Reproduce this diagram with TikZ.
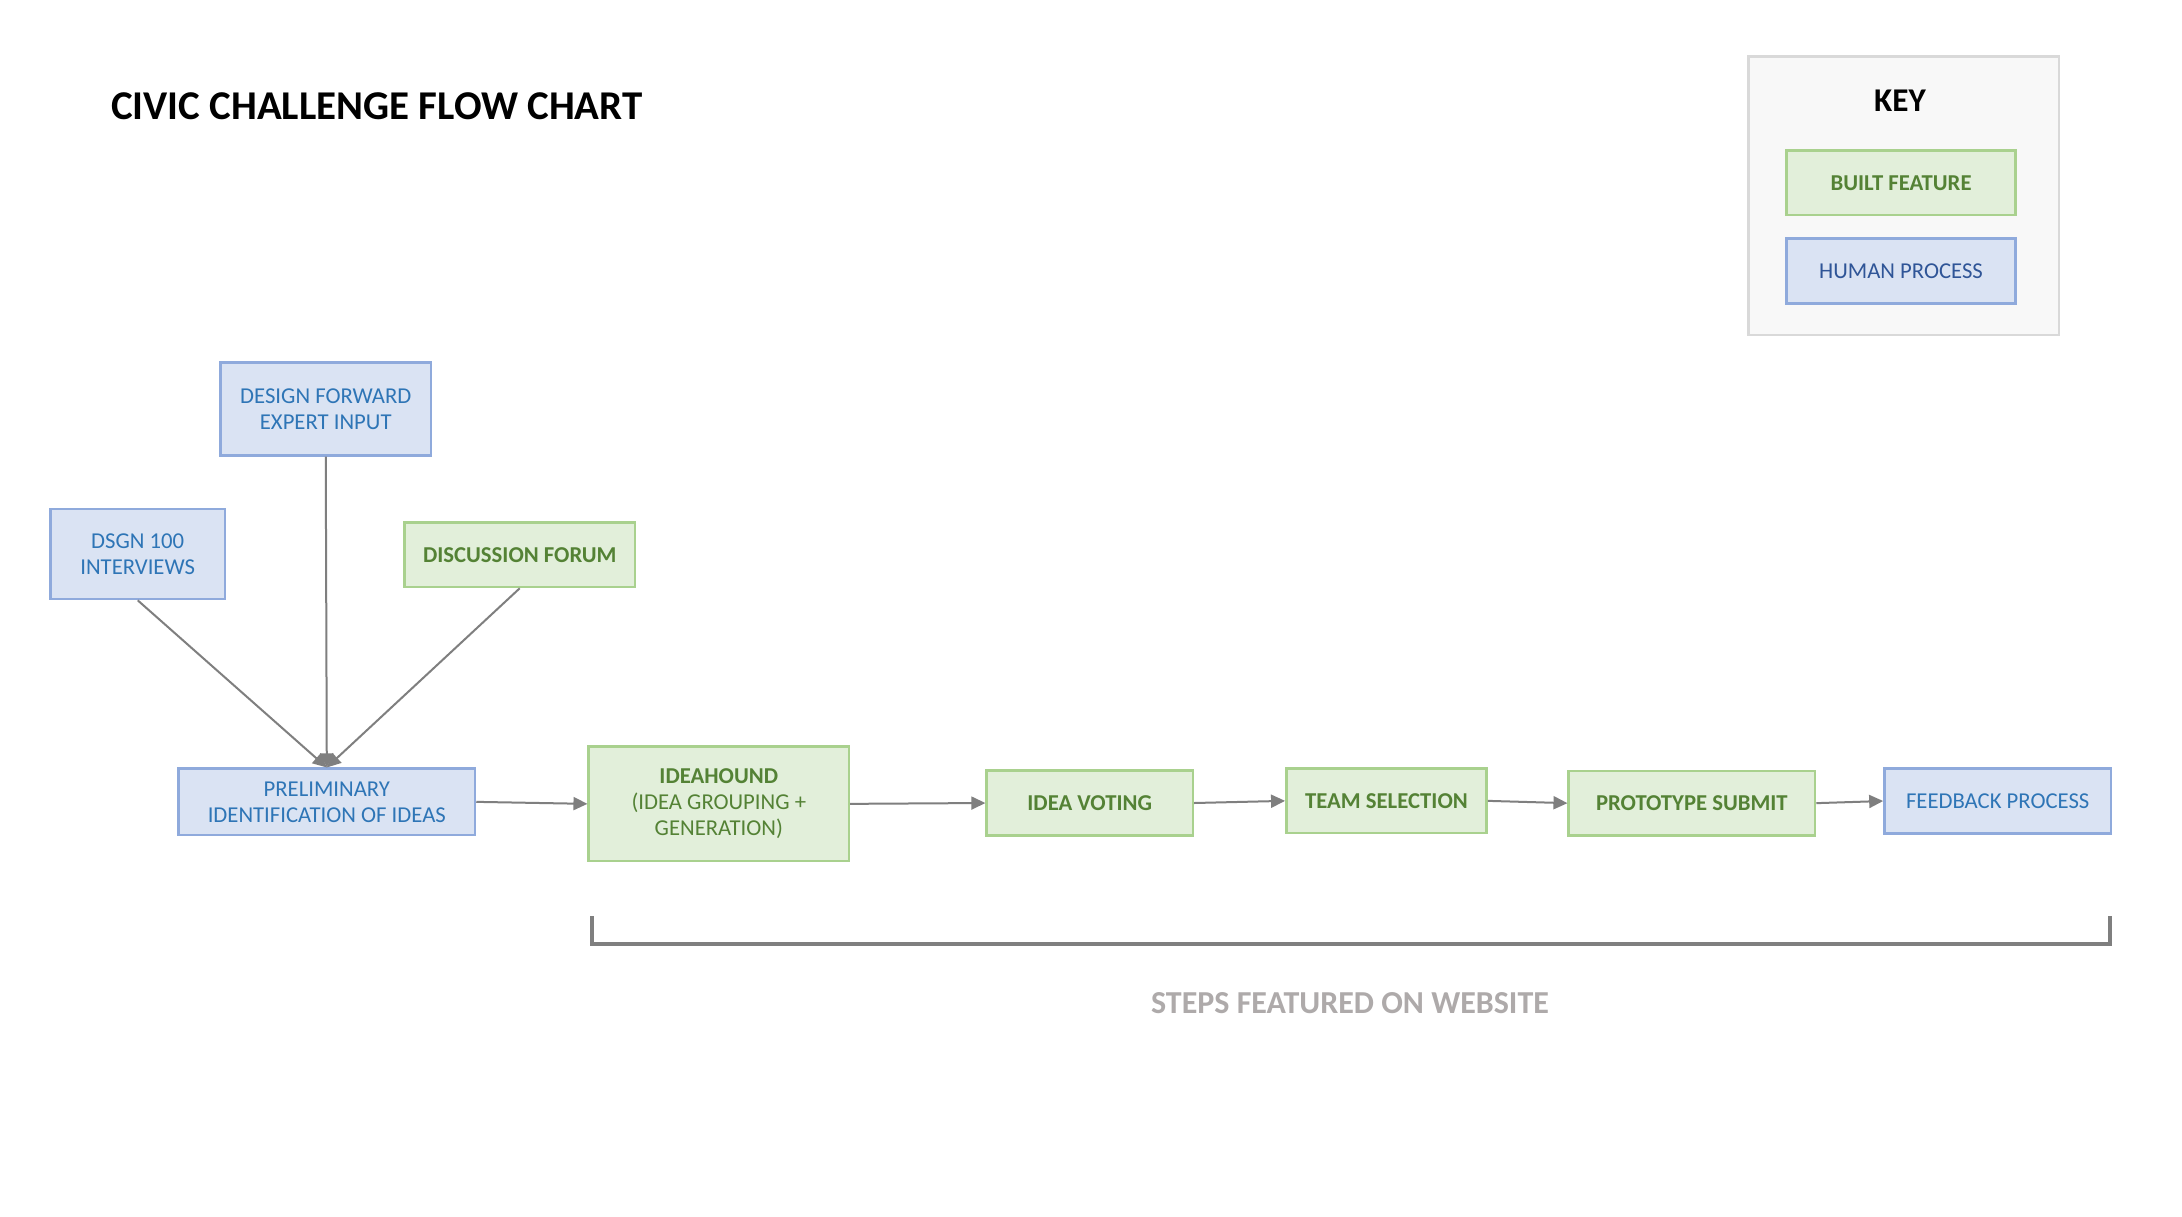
\documentclass[tikz,border=0pt]{standalone}
\usepackage{fontspec}
\setmainfont{Carlito}
\usetikzlibrary{arrows.meta}
\definecolor{bluefill}{HTML}{DAE3F3}
\definecolor{blueline}{HTML}{8FAADC}
\definecolor{bluetext}{HTML}{2E75B6}
\definecolor{bluetextdark}{HTML}{2F5597}
\definecolor{greenfill}{HTML}{E2EFDA}
\definecolor{greenline}{HTML}{A9D18E}
\definecolor{greentext}{HTML}{548235}
\definecolor{keyfill}{HTML}{F8F8F8}
\definecolor{keyline}{HTML}{D9D9D9}
\definecolor{arrowgray}{HTML}{7F7F7F}
\definecolor{stepsgray}{HTML}{AEAAAA}
\tikzset{
  boxbase/.style={rectangle, inner sep=0pt, align=center, line width=1.25pt,
    font=\fontsize{11.35}{13}\selectfont},
  humanbox/.style={boxbase, draw=blueline, fill=bluefill, text=bluetext},
  builtbox/.style={boxbase, draw=greenline, fill=greenfill, text=greentext, font=\fontsize{11.35}{13}\selectfont\bfseries},
  conn/.style={draw=arrowgray, line width=1pt, -{Triangle[length=7pt,width=6.5pt]}},
}
\begin{document}
\begin{tikzpicture}[x=0.5pt,y=-0.5pt]
\useasboundingbox (0,0) rectangle (2182,1216);
\fill[white] (0,0) rectangle (2182,1216);

% title
\node[anchor=base west, inner sep=0pt, font=\fontsize{20.45}{25}\selectfont\bfseries] (title) at (110.7,119) {CIVIC CHALLENGE FLOW CHART};

% key
\node[draw=keyline, fill=keyfill, line width=1.25pt, minimum width=155.15pt, minimum height=139.15pt, inner sep=0pt] (keybox) at (1903.85,195.85) {};
\node[font=\fontsize{16.6}{20}\selectfont\bfseries, inner sep=0pt] (keytitle) at (1900,101) {KEY};
\node[builtbox, minimum width=114.3pt, minimum height=32.15pt] (keybuilt) at (1901,182.85) {BUILT FEATURE};
\node[humanbox, text=bluetextdark, minimum width=114.3pt, minimum height=32.3pt] (keyhuman) at (1901,271) {HUMAN PROCESS};

% upper inputs
\node[humanbox, minimum width=105.25pt, minimum height=46.3pt] (design) at (325.75,409) {DESIGN FORWARD\\EXPERT INPUT};
\node[humanbox, minimum width=87.3pt, minimum height=45.15pt] (dsgn) at (137.7,553.9) {DSGN 100\\INTERVIEWS};
\node[builtbox, minimum width=115.25pt, minimum height=32.15pt] (forum) at (519.75,554.85) {DISCUSSION FORUM};

% main row
\node[humanbox, minimum width=148.2pt, minimum height=33.15pt] (prelim) at (326.8,801.85) {PRELIMINARY\\IDENTIFICATION OF IDEAS};
\node[builtbox, minimum width=130.1pt, minimum height=57.15pt] (idea) at (718.8,803.85) {IDEAHOUND\\\mdseries(IDEA GROUPING +\\\mdseries GENERATION)};
\node[builtbox, minimum width=103.1pt, minimum height=32.3pt] (voting) at (1089.7,803) {IDEA VOTING};
\node[builtbox, minimum width=100.15pt, minimum height=32.15pt] (team) at (1386.45,800.85) {TEAM SELECTION};
\node[builtbox, minimum width=123.15pt, minimum height=32.15pt] (proto) at (1691.85,803.15) {PROTOTYPE SUBMIT};
\node[humanbox, minimum width=113.3pt, minimum height=32.3pt] (feedback) at (1997.7,801) {FEEDBACK PROCESS};

% connectors
\draw[conn] (dsgn.south) -- (prelim.north);
\draw[conn] (design.south) -- (prelim.north);
\draw[conn] (forum.south) -- (prelim.north);
\draw[conn] (prelim.east) -- (idea.west);
\draw[conn] (idea.east) -- (voting.west);
\draw[conn] (voting.east) -- (team.west);
\draw[conn] (team.east) -- (proto.west);
\draw[conn] (proto.east) -- (feedback.west);

% bracket
\coordinate (brL) at (592,916);
\coordinate (brR) at (2110,916);
\draw[draw=arrowgray, line width=2pt] (brL) -- (592,944.3) -- (2110,944.3) -- (brR);
\node[font=\fontsize{16}{19}\selectfont\bfseries, text=stepsgray, inner sep=0pt] (steps) at (1350,1002.7) {STEPS FEATURED ON WEBSITE};
\end{tikzpicture}
\end{document}
